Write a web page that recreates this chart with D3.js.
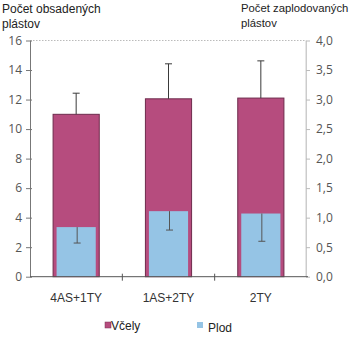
<!DOCTYPE html>
<html><head><meta charset="utf-8">
<script src="https://cdn.jsdelivr.net/npm/d3@7"></script>
<style>
body{margin:0;background:#fff;}
svg{display:block;}
</style></head>
<body>
<script>
const categories = ["4AS+1TY", "1AS+2TY", "2TY"];
const vcely = [11.0, 12.05, 12.1];
const vcelyErrUp = [1.43, 2.37, 2.52];
const plod = [0.84, 1.11, 1.07];
const plodErrDown = [0.27, 0.32, 0.47];
const leftTicks = [0, 2, 4, 6, 8, 10, 12, 14, 16];
const rightTicks = [0, 0.5, 1, 1.5, 2, 2.5, 3, 3.5, 4];
const legendLabels = ["Včely", "Plod"];

const W = 353, H = 337;
const svg = d3.select("body").append("svg").attr("width", W).attr("height", H);

const x = d3.scaleBand().domain(categories).range([30, 307]).paddingInner(0.5).paddingOuter(0.25);
const yL = d3.scaleLinear().domain([0, 16]).range([276.7, 40.5]);
const yR = d3.scaleLinear().domain([0, 4]).range([276.7, 40.5]);

const pink = "#b64c7e", blue = "#95c4e5";

// top dotted frame line & right axis line
svg.append("line").attr("x1", 30).attr("x2", 306).attr("y1", yL(16)).attr("y2", yL(16))
  .attr("stroke", "#aaa").attr("stroke-width", 0.8).attr("stroke-dasharray", "1.5,1.5");
svg.append("line").attr("x1", 306).attr("x2", 306).attr("y1", yL(16)).attr("y2", yL(0))
  .attr("stroke", "#ccc").attr("stroke-width", 1);

// pink bars
svg.selectAll("rect.v").data(categories).enter().append("rect")
  .attr("x", d => x(d)).attr("width", x.bandwidth())
  .attr("y", (d, i) => yL(vcely[i])).attr("height", (d, i) => yL(0) - yL(vcely[i]))
  .attr("fill", pink).attr("stroke", "#6e2b4c").attr("stroke-width", 1);

// blue bars (inset)
const inset = 3.5;
svg.selectAll("rect.p").data(categories).enter().append("rect")
  .attr("x", d => x(d) + inset).attr("width", x.bandwidth() - 2 * inset)
  .attr("y", (d, i) => yR(plod[i])).attr("height", (d, i) => yR(0) - yR(plod[i]))
  .attr("fill", blue);

// error bars
const errColor = "#3a3a3a";
categories.forEach((c, i) => {
  const cx = x(c) + x.bandwidth() / 2;
  const top = yL(vcely[i] + vcelyErrUp[i]);
  svg.append("line").attr("x1", cx).attr("x2", cx).attr("y1", yL(vcely[i])).attr("y2", top)
    .attr("stroke", errColor).attr("stroke-width", 1);
  svg.append("line").attr("x1", cx - 3.5).attr("x2", cx + 3.5).attr("y1", top).attr("y2", top)
    .attr("stroke", errColor).attr("stroke-width", 1);
  const bx = cx + 1;
  const bot = yR(plod[i] - plodErrDown[i]);
  svg.append("line").attr("x1", bx).attr("x2", bx).attr("y1", yR(plod[i])).attr("y2", bot)
    .attr("stroke", "#555").attr("stroke-width", 1);
  svg.append("line").attr("x1", bx - 3.5).attr("x2", bx + 3.5).attr("y1", bot).attr("y2", bot)
    .attr("stroke", "#555").attr("stroke-width", 1);
});

// left axis
const gL = svg.append("g").attr("transform", "translate(30,0)")
  .call(d3.axisLeft(yL).tickValues(leftTicks).tickSize(4).tickSizeOuter(0).tickPadding(4).tickFormat(d3.format("d")));
gL.select(".domain").attr("stroke", "#777");
gL.selectAll(".tick line").attr("stroke", "#777").attr("x2", 2).attr("x1", -4);
gL.selectAll("text").attr("fill", "#555").style("font-family", "'Open Sans', sans-serif").style("font-size", "12px");

// right axis
const gR = svg.append("g").attr("transform", "translate(306,0)")
  .call(d3.axisRight(yR).tickValues(rightTicks).tickSize(4).tickSizeOuter(0).tickPadding(6)
    .tickFormat(d => d3.format(".1f")(d).replace(".", ",")));
gR.select(".domain").attr("stroke", "#ccc");
gR.selectAll(".tick line").attr("stroke", "#bbb");
gR.selectAll("text").attr("fill", "#555").style("font-family", "'Open Sans', sans-serif").style("font-size", "12px");

// x axis
const gX = svg.append("g").attr("transform", `translate(0,${yL(0)})`);
gX.append("line").attr("x1", 30).attr("x2", 308).attr("stroke", "#555").attr("stroke-width", 1);
const bounds = categories.slice(1).map(c => x(c) - x.step() * x.paddingInner() / 2 );
gX.selectAll("line.t").data(bounds).enter().append("line")
  .attr("x1", d => d).attr("x2", d => d).attr("y1", -3).attr("y2", 4).attr("stroke", "#555");
gX.selectAll("text").data(categories).enter().append("text")
  .attr("x", d => x(d) + x.bandwidth() / 2).attr("y", 25)
  .attr("text-anchor", "middle").attr("fill", "#333")
  .style("font-family", "'Liberation Sans', Arial, sans-serif").style("font-size", "12px")
  .text(d => d);

// titles
const tfont = "'Liberation Sans', Arial, sans-serif";
[["Počet obsadených", 2, 13], ["plástov", 2, 28]].forEach(([t, xx, yy]) =>
  svg.append("text").attr("x", xx).attr("y", yy).attr("fill", "#222")
    .style("font-family", tfont).style("font-size", "12px").text(t));
[["Počet zaplodovaných", 241, 12], ["plástov", 241, 27]].forEach(([t, xx, yy]) =>
  svg.append("text").attr("x", xx).attr("y", yy).attr("fill", "#222")
    .style("font-family", tfont).style("font-size", "11.3px").text(t));

// legend
const leg = [
  {label: legendLabels[0], color: pink, sx: 105, sy: 322, tx: 111, ty: 330},
  {label: legendLabels[1], color: blue, sx: 197, sy: 322, tx: 208, ty: 332}
];
leg.forEach(l => {
  svg.append("rect").attr("x", l.sx).attr("y", l.sy).attr("width", 6).attr("height", 6)
    .attr("fill", l.color).attr("stroke", l.color === pink ? "#7a3356" : "none").attr("stroke-width", 0.5);
  svg.append("text").attr("x", l.tx).attr("y", l.ty).attr("fill", "#222")
    .style("font-family", tfont).style("font-size", "12px").text(l.label);
});
</script>
</body></html>
